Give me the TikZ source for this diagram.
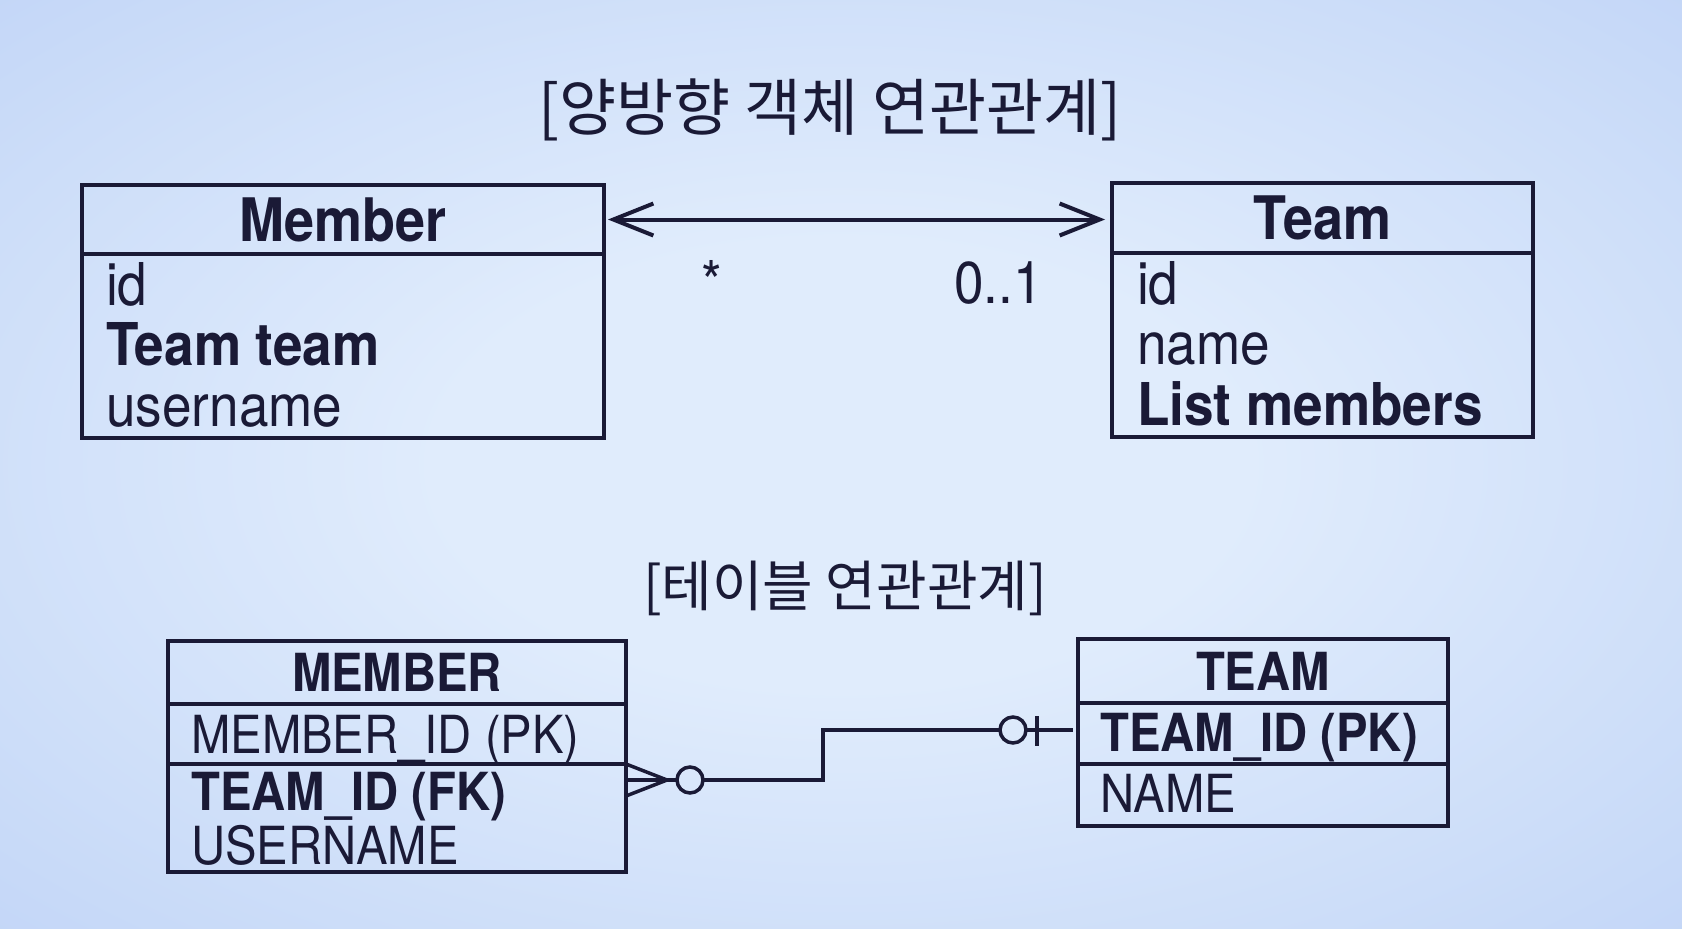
\documentclass[tikz,border=0pt]{standalone}
\usepackage{fontspec}
\setmainfont{TeX Gyre Heros}[FakeStretch=0.9]
\newfontfamily\hangul{Noto Sans CJK KR}
\usetikzlibrary{arrows.meta}
\definecolor{ink}{RGB}{26,26,54}
\definecolor{bgin}{RGB}{224,236,252}
\definecolor{bgmid}{RGB}{200,218,248}
\definecolor{bgedge}{RGB}{180,200,245}
\definecolor{bgout}{RGB}{164,184,234}
\pgfdeclareradialshading{backdrop}{\pgfpoint{0bp}{0bp}}{color(0bp)=(bgin); color(12bp)=(bgin); color(32bp)=(bgmid); color(50bp)=(bgedge); color(71bp)=(bgout)}
\newcommand{\titlesize}{\fontsize{62}{62}\selectfont}
\newcommand{\subtitlesize}{\fontsize{55}{55}\selectfont}
\newcommand{\headsize}{\fontsize{60}{60}\selectfont}
\newcommand{\rowsize}{\fontsize{59}{59}\selectfont}
\newcommand{\tablesize}{\fontsize{52.5}{52.5}\selectfont}
\tikzset{
  box/.style={draw=ink,line width=4pt,inner sep=0pt,outer sep=0pt},
  rowtext/.style={anchor=base west,inner sep=0pt,text=ink},
  ring/.style={draw=ink,line width=3.5pt,circle,minimum size=26pt,inner sep=0pt,outer sep=0pt},
  link/.style={draw=ink,line width=3.5pt},
  barb/.tip={Straight Barb[length=40pt,width=32pt]}
}

\begin{document}
\begin{tikzpicture}[x=1pt,y=-1pt,text=ink]
\shade[shading=backdrop] (0,0) rectangle (1682,929);
\useasboundingbox (0,0) rectangle (1682,929);

% object model
\node (objtitle) at (830,110) {\hangul\titlesize [양방향 객체 연관관계]};
\node[box,minimum width=522pt,minimum height=69pt] (memberhead) at (343,219.5) {\headsize\bfseries Member};
\node[box,minimum width=522pt,minimum height=184pt,anchor=north] (memberbody) at (memberhead.south) {};
\node[rowtext] (memberid) at (106,305) {\rowsize id};
\node[rowtext] (memberteam) at (106,365) {\rowsize\bfseries Team team};
\node[rowtext] (membername) at (106,426) {\rowsize username};

\node[box,minimum width=421pt,minimum height=70pt] (teamhead) at (1322.5,218) {\headsize\bfseries Team};
\node[box,minimum width=421pt,minimum height=184pt,anchor=north] (teambody) at (teamhead.south) {};
\node[rowtext] (teamid) at (1137,304) {\rowsize id};
\node[rowtext] (teamname) at (1137,364) {\rowsize name};
\node[rowtext] (teammembers) at (1137,425) {\rowsize\bfseries List members};

\draw[link,line width=4pt,barb-barb,shorten <=4pt,shorten >=7pt] (memberhead.east) -- (memberhead.east -| teamhead.west);
\node[rowtext,anchor=base] (manymult) at (712,303) {\rowsize *};
\node[rowtext] (onemult) at (954,303) {\rowsize 0..1};

% table model
\node (tabletitle) at (845,588) {\hangul\subtitlesize [테이블 연관관계]};
\node[box,minimum width=458pt,minimum height=63pt] (MEMBERhead) at (397,672.5) {\tablesize\bfseries MEMBER};
\node[box,minimum width=458pt,minimum height=60pt,anchor=north] (MEMBERpk) at (MEMBERhead.south) {};
\node[box,minimum width=458pt,minimum height=108pt,anchor=north] (MEMBERbody) at (MEMBERpk.south) {};
\node[rowtext] (MEMBERid) at (191,753) {\tablesize MEMBER\_ID (PK)};
\node[rowtext] (MEMBERfk) at (191,810) {\tablesize\bfseries TEAM\_ID (FK)};
\node[rowtext] (MEMBERname) at (191,864) {\tablesize USERNAME};

\node[box,minimum width=370pt,minimum height=64pt] (TEAMhead) at (1263,671) {\tablesize\bfseries TEAM};
\node[box,minimum width=370pt,minimum height=61pt,anchor=north] (TEAMpk) at (TEAMhead.south) {};
\node[box,minimum width=370pt,minimum height=62pt,anchor=north] (TEAMbody) at (TEAMpk.south) {};
\node[rowtext] (TEAMid) at (1100,751) {\tablesize\bfseries TEAM\_ID (PK)};
\node[rowtext] (TEAMname) at (1100,812) {\tablesize NAME};

% crow's foot
\coordinate (crowfoot) at (626,780);
\coordinate (crowtip) at (667,780);
\coordinate (elbow) at (823,780);
\coordinate (pkend) at (1073,730);
\node[ring] (fkring) at (690,780) {};
\node[ring] (pkring) at (1013,730) {};
\draw[link] (626,764) -- (crowtip) -- (626,796);
\draw[link] (crowfoot) -- (fkring.west);
\draw[link] (fkring.east) -- (elbow) |- (pkring.west);
\draw[link] (pkring.east) -- (pkend);
\draw[link] (1037,716) -- (1037,746);

\end{tikzpicture}
\end{document}
